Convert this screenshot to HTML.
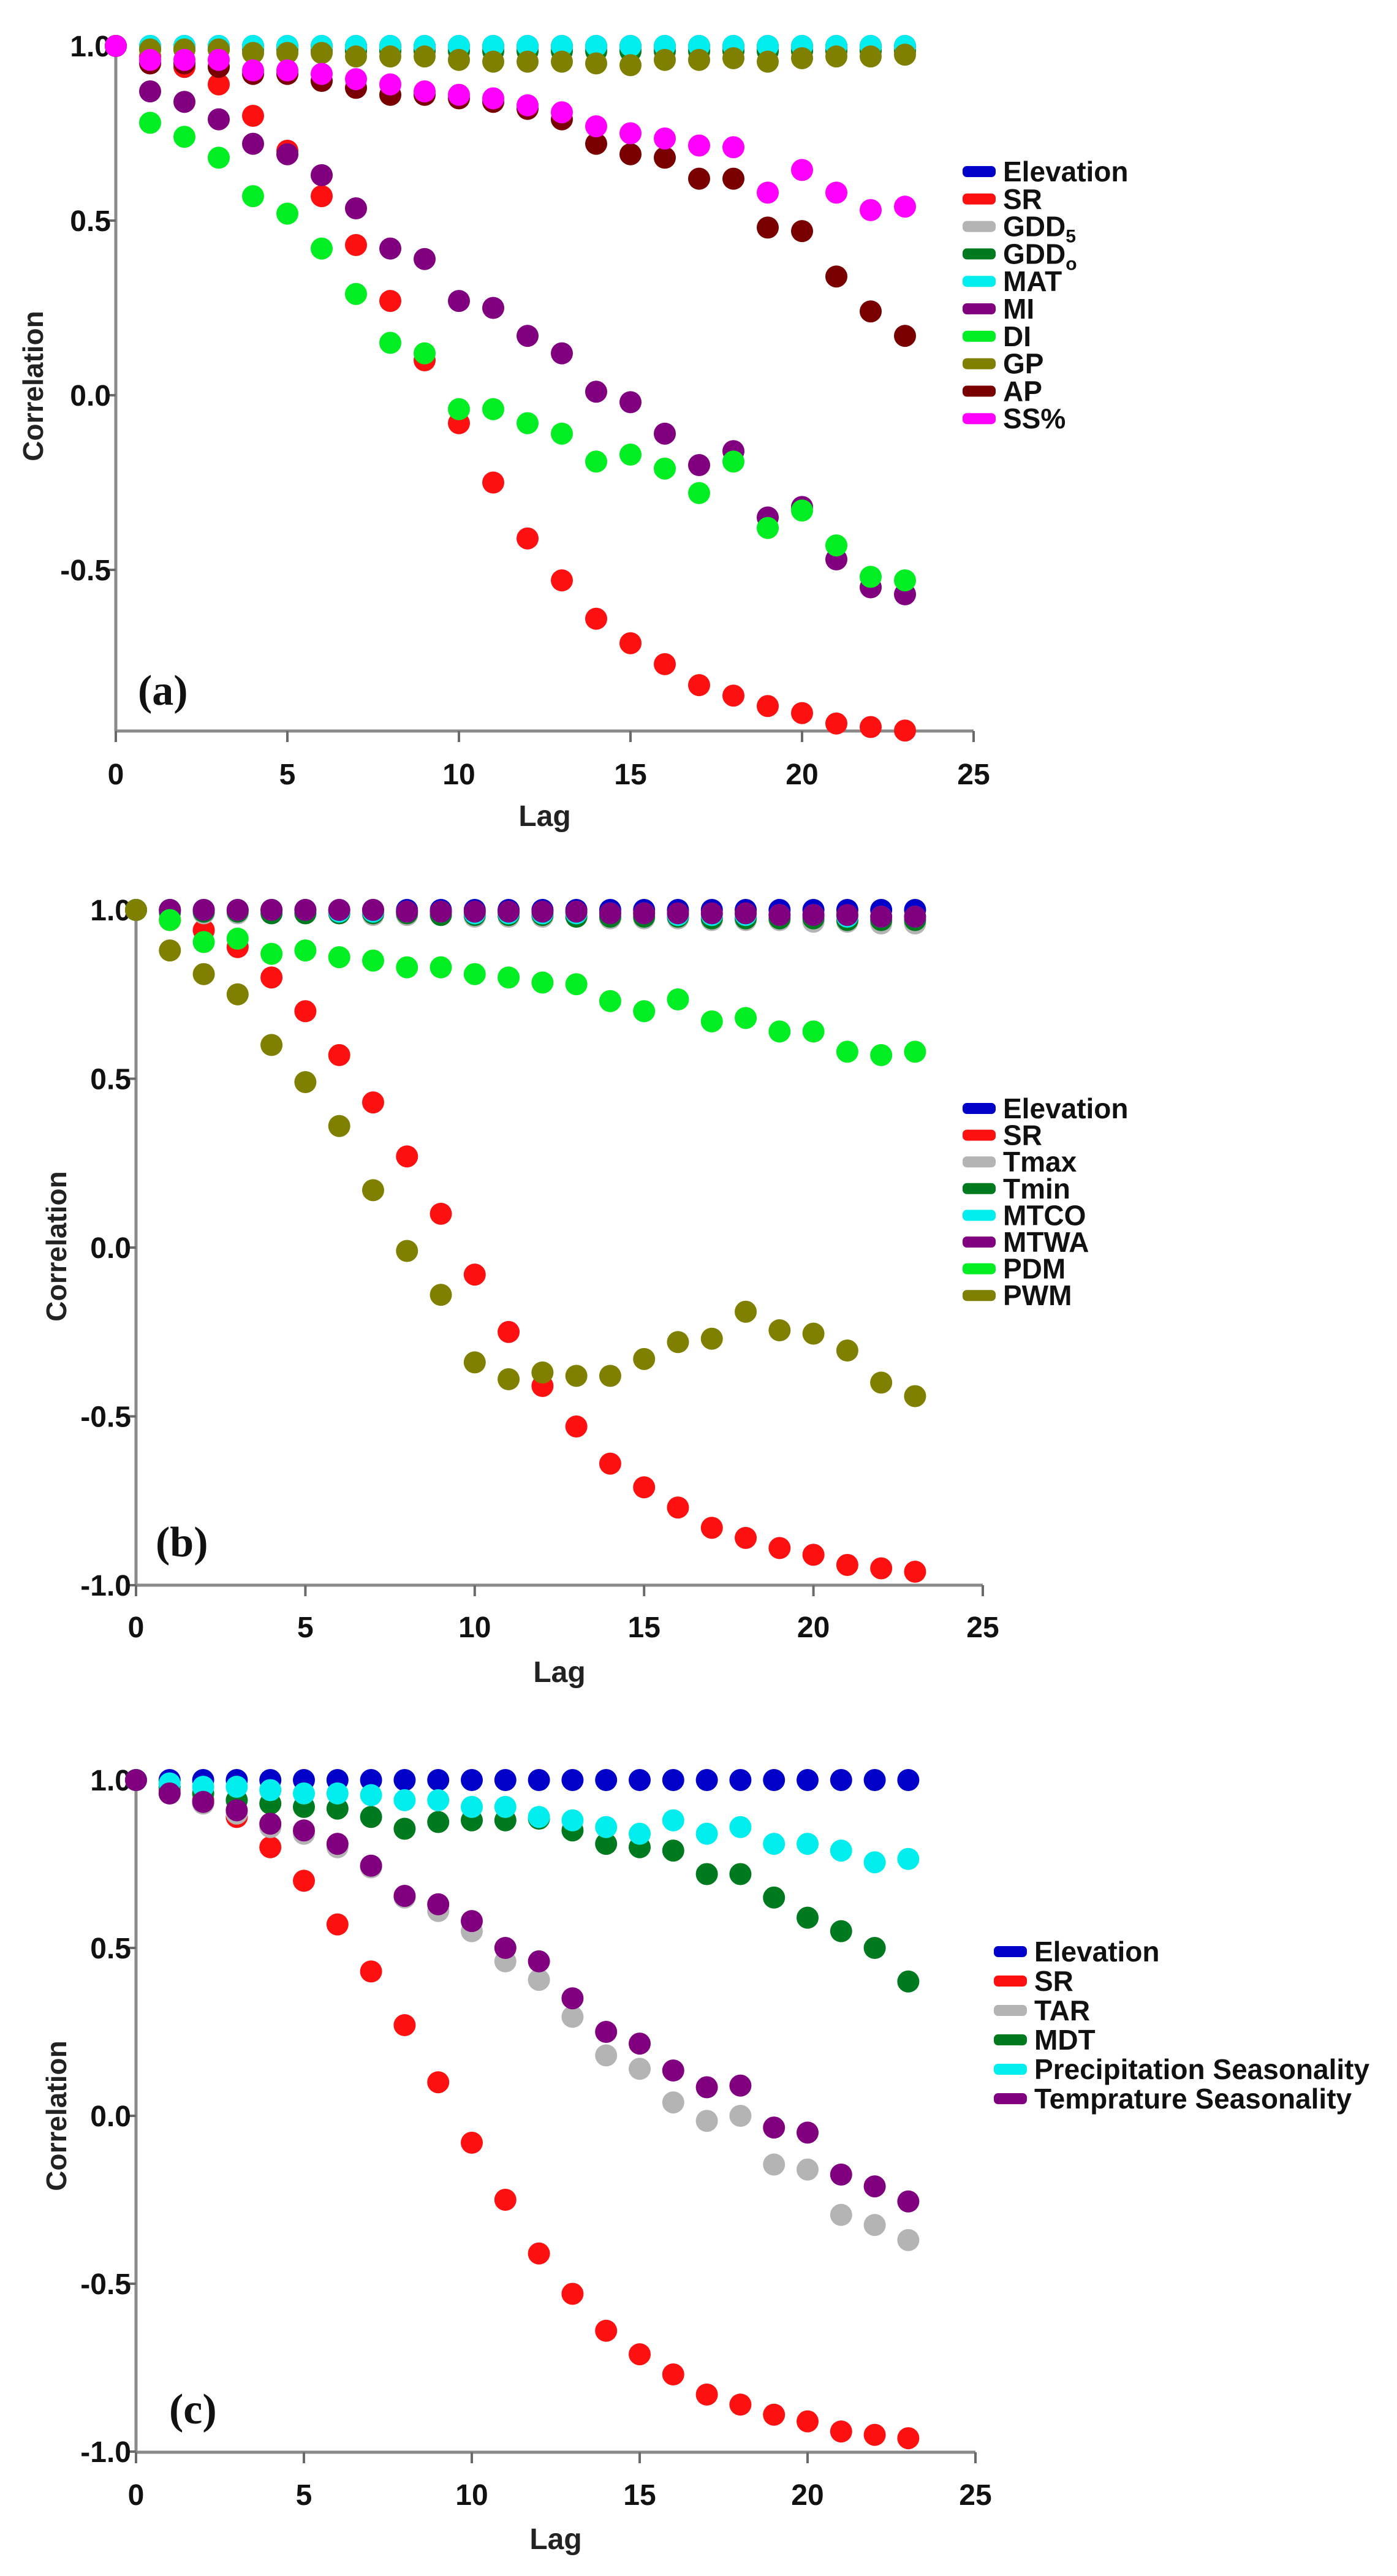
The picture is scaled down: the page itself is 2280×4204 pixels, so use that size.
<!DOCTYPE html>
<html><head><meta charset="utf-8"><style>
html,body{margin:0;padding:0;background:#fff;}
svg{display:block;font-family:"Liberation Sans",sans-serif;}
</style></head><body>
<svg id="chart" width="2280" height="4204" viewBox="0 0 2280 4204" xmlns="http://www.w3.org/2000/svg"></svg>
<script>
const lags = [0,1,2,3,4,5,6,7,8,9,10,11,12,13,14,15,16,17,18,19,20,21,22,23];
const xTicks = [0,5,10,15,20,25];
const yTicksA = [1.0,0.5,0.0,-0.5];
const yTickLabelsA = ["1.0","0.5","0.0","-0.5"];
const yTicksBC = [1.0,0.5,0.0,-0.5,-1.0];
const yTickLabelsBC = ["1.0","0.5","0.0","-0.5","-1.0"];

const srVals = [1,0.97,0.94,0.89,0.80,0.70,0.57,0.43,0.27,0.10,-0.08,-0.25,-0.41,-0.53,-0.64,-0.71,-0.77,-0.83,-0.86,-0.89,-0.91,-0.94,-0.95,-0.96];
const ones = [1,1,1,1,1,1,1,1,1,1,1,1,1,1,1,1,1,1,1,1,1,1,1,1];

// panel a
const aGDD5 = [1,0.995,0.995,0.995,0.995,0.99,0.99,0.99,0.99,0.99,0.99,0.99,0.99,0.99,0.99,0.99,0.99,0.99,0.99,0.99,0.99,0.99,0.99,0.99];
const aGDD0 = [1,0.99,0.99,0.99,0.99,0.99,0.985,0.985,0.985,0.985,0.985,0.985,0.985,0.985,0.985,0.985,0.985,0.985,0.985,0.985,0.985,0.985,0.985,0.985];
const aMI = [1,0.87,0.84,0.79,0.72,0.69,0.63,0.535,0.42,0.39,0.27,0.25,0.17,0.12,0.01,-0.02,-0.11,-0.20,-0.16,-0.35,-0.32,-0.47,-0.55,-0.57];
const aDI = [1,0.78,0.74,0.68,0.57,0.52,0.42,0.29,0.15,0.12,-0.04,-0.04,-0.08,-0.11,-0.19,-0.17,-0.21,-0.28,-0.19,-0.38,-0.33,-0.43,-0.52,-0.53];
const aGP = [1,0.99,0.99,0.99,0.98,0.98,0.98,0.97,0.97,0.97,0.96,0.955,0.955,0.955,0.95,0.945,0.96,0.96,0.965,0.955,0.965,0.97,0.97,0.975];
const aAP = [1,0.95,0.95,0.94,0.92,0.92,0.90,0.88,0.86,0.86,0.85,0.84,0.82,0.79,0.72,0.69,0.68,0.62,0.62,0.48,0.47,0.34,0.24,0.17];
const aSS = [1,0.96,0.96,0.96,0.93,0.93,0.92,0.905,0.89,0.87,0.86,0.85,0.83,0.81,0.77,0.75,0.735,0.715,0.71,0.58,0.645,0.58,0.53,0.54];

// panel b
const bTmax = [1,0.99,0.99,0.99,0.99,0.99,0.99,0.985,0.985,0.985,0.98,0.98,0.98,0.98,0.975,0.975,0.975,0.97,0.97,0.97,0.965,0.965,0.96,0.96];
const bTmin = [1,0.995,0.995,0.995,0.99,0.99,0.99,0.99,0.99,0.985,0.985,0.985,0.985,0.98,0.98,0.98,0.98,0.975,0.975,0.975,0.975,0.97,0.97,0.97];
const bMTCO = [1,1,1,1,1,1,0.995,0.995,0.995,0.995,0.99,0.99,0.99,0.99,0.99,0.99,0.985,0.985,0.985,0.985,0.985,0.98,0.98,0.98];
const bMTWA = [1,1,1,1,1,1,1,1,0.995,0.995,0.995,0.995,0.995,0.995,0.99,0.99,0.99,0.99,0.99,0.985,0.985,0.985,0.98,0.98];
const bPDM = [1,0.97,0.905,0.915,0.87,0.88,0.86,0.85,0.83,0.83,0.81,0.80,0.785,0.78,0.73,0.70,0.735,0.67,0.68,0.64,0.64,0.58,0.57,0.58];
const bPWM = [1,0.88,0.81,0.75,0.60,0.49,0.36,0.17,-0.01,-0.14,-0.34,-0.39,-0.37,-0.38,-0.38,-0.33,-0.28,-0.27,-0.19,-0.245,-0.255,-0.305,-0.40,-0.44];

// panel c
const cTAR = [1,0.96,0.93,0.90,0.86,0.84,0.80,0.74,0.65,0.61,0.55,0.46,0.405,0.295,0.18,0.14,0.04,-0.015,0,-0.145,-0.16,-0.295,-0.325,-0.37];
const cMDT = [1,0.98,0.96,0.94,0.93,0.92,0.915,0.89,0.855,0.875,0.88,0.88,0.885,0.85,0.81,0.80,0.79,0.72,0.72,0.65,0.59,0.55,0.50,0.40];
const cPS = [1,0.99,0.98,0.98,0.97,0.96,0.96,0.955,0.94,0.94,0.92,0.92,0.89,0.88,0.86,0.84,0.88,0.84,0.86,0.81,0.81,0.79,0.755,0.765];
const cTS = [1,0.96,0.935,0.91,0.87,0.85,0.81,0.745,0.655,0.63,0.58,0.50,0.46,0.35,0.25,0.215,0.135,0.085,0.09,-0.035,-0.05,-0.175,-0.21,-0.255];

const C = {blue:"#0000c8",red:"#ff1010",gray:"#b4b4b4",dgreen:"#007a1e",cyan:"#00eeee",purple:"#800080",green:"#00ee22",olive:"#808000",maroon:"#7a0000",pink:"#ff00ff"};

const NS = "http://www.w3.org/2000/svg";
const svg = document.getElementById("chart");
function mk(tag, attrs, parent){
  const e = document.createElementNS(NS, tag);
  for (const k in attrs) e.setAttribute(k, attrs[k]);
  (parent||svg).appendChild(e);
  return e;
}

function panel(cfg){
  const g = mk("g", {});
  
  
  const xs = v => cfg.x0 + (cfg.x25 - cfg.x0) * v / 25;
  const ys = v => cfg.y0 - cfg.unit * v;
  // axes
  const ax = mk("g", {}, g);
  
  
  mk("line", {x1:cfg.x0, y1:ys(1.0), x2:cfg.x0, y2:cfg.axisY, stroke:"#8a8a8a","stroke-width":5}, ax);
  mk("line", {x1:cfg.x0, y1:cfg.axisY, x2:xs(25), y2:cfg.axisY, stroke:"#8a8a8a","stroke-width":5}, ax);
  xTicks.forEach(t => {
    mk("line", {x1:xs(t), y1:cfg.axisY, x2:xs(t), y2:cfg.axisY+18, stroke:"#6a6a6a","stroke-width":4}, ax);
    const tx = mk("text", {x:xs(t), y:cfg.xLabY, "font-size":48, "font-weight":"bold", "text-anchor":"middle", fill:"#111"}, ax);
    tx.textContent = t;
    
    
  });
  cfg.yt.forEach((t,i) => {
    mk("line", {x1:cfg.x0-16, y1:ys(t), x2:cfg.x0, y2:ys(t), stroke:"#6a6a6a","stroke-width":4}, ax);
    const tx = mk("text", {x:cfg.x0-8, y:ys(t)+17, "font-size":48, "font-weight":"bold", "text-anchor":"end", fill:"#111"}, ax);
    tx.textContent = cfg.ytl[i];
    
    
  });
  const xl = mk("text", {x:xs(12.5), y:cfg.lagY, "font-size":48, "font-weight":"bold", "text-anchor":"middle", fill:"#222"}, g);
  xl.textContent = "Lag";
  
  
  const yl = mk("text", {x:0, y:0, "font-size":46, "font-weight":"bold", "text-anchor":"middle", fill:"#222", transform:`translate(${cfg.corrX},${cfg.corrY}) rotate(-90)`}, g);
  yl.textContent = "Correlation";
  
  
  const pl = mk("text", {x:cfg.tagX, y:cfg.tagY, "font-size":70, "font-weight":"bold", "font-family":"Liberation Serif, serif", fill:"#111"}, g);
  pl.textContent = cfg.tag;
  
  
  // series
  cfg.series.forEach(s => {
    const sg = mk("g", {}, g);
    
    
    s.vals.forEach((v,i) => {
      const c = mk("circle", {cx:xs(lags[i]), cy:ys(v), r:18, fill:s.color}, sg);
      
      
    });
  });
  // legend
  const lg = mk("g", {}, g);
  
  
  cfg.series.forEach((s,i) => {
    const y = cfg.legY + i*cfg.legStep;
    const eg = mk("g", {}, lg);
    
    
    mk("rect", {x:cfg.legX, y:y-9, width:54, height:18, rx:7, fill:s.color}, eg);
    const t = mk("text", {x:cfg.legX+66, y:y+16, "font-size":46, "font-weight":"bold", fill:"#111"}, eg);
    t.textContent = s.label;
    if (s.sub){
      const ts = mk("tspan", {"font-size":30, dy:10}, t);
      ts.textContent = s.sub;
    }
  });
}

panel({name:"panel-a", tag:"(a)", x0:189, x25:1589, y0:645, unit:570, axisY:1193, xLabY:1280, lagY:1348,
  corrX:70, corrY:630, tagX:225, tagY:1150, yt:yTicksA, ytl:yTickLabelsA,
  legX:1571, legY:280, legStep:44.8,
  series:[
    {key:"elevation",label:"Elevation",color:C.blue,vals:ones},
    {key:"sr",label:"SR",color:C.red,vals:srVals},
    {key:"gdd5",label:"GDD",sub:"5",color:C.gray,vals:aGDD5},
    {key:"gdd0",label:"GDD",sub:"o",color:C.dgreen,vals:aGDD0},
    {key:"mat",label:"MAT",color:C.cyan,vals:ones},
    {key:"mi",label:"MI",color:C.purple,vals:aMI},
    {key:"di",label:"DI",color:C.green,vals:aDI},
    {key:"gp",label:"GP",color:C.olive,vals:aGP},
    {key:"ap",label:"AP",color:C.maroon,vals:aAP},
    {key:"ss",label:"SS%",color:C.pink,vals:aSS}
  ]});

panel({name:"panel-b", tag:"(b)", x0:222, x25:1604, y0:2036, unit:551, axisY:2587, xLabY:2672, lagY:2745,
  corrX:108, corrY:2034, tagX:254, tagY:2540, yt:yTicksBC, ytl:yTickLabelsBC,
  legX:1571, legY:1809, legStep:43.6,
  series:[
    {key:"elevation",label:"Elevation",color:C.blue,vals:ones},
    {key:"sr",label:"SR",color:C.red,vals:srVals},
    {key:"tmax",label:"Tmax",color:C.gray,vals:bTmax},
    {key:"tmin",label:"Tmin",color:C.dgreen,vals:bTmin},
    {key:"mtco",label:"MTCO",color:C.cyan,vals:bMTCO},
    {key:"mtwa",label:"MTWA",color:C.purple,vals:bMTWA},
    {key:"pdm",label:"PDM",color:C.green,vals:bPDM},
    {key:"pwm",label:"PWM",color:C.olive,vals:bPWM}
  ]});

panel({name:"panel-c", tag:"(c)", x0:222, x25:1592, y0:3453, unit:548, axisY:4002, xLabY:4088, lagY:4160,
  corrX:108, corrY:3453, tagX:276, tagY:3955, yt:yTicksBC, ytl:yTickLabelsBC,
  legX:1622, legY:3185, legStep:48,
  series:[
    {key:"elevation",label:"Elevation",color:C.blue,vals:ones},
    {key:"sr",label:"SR",color:C.red,vals:srVals},
    {key:"tar",label:"TAR",color:C.gray,vals:cTAR},
    {key:"mdt",label:"MDT",color:C.dgreen,vals:cMDT},
    {key:"precip-seasonality",label:"Precipitation Seasonality",color:C.cyan,vals:cPS},
    {key:"temp-seasonality",label:"Temprature Seasonality",color:C.purple,vals:cTS}
  ]});
</script>
</body></html>
